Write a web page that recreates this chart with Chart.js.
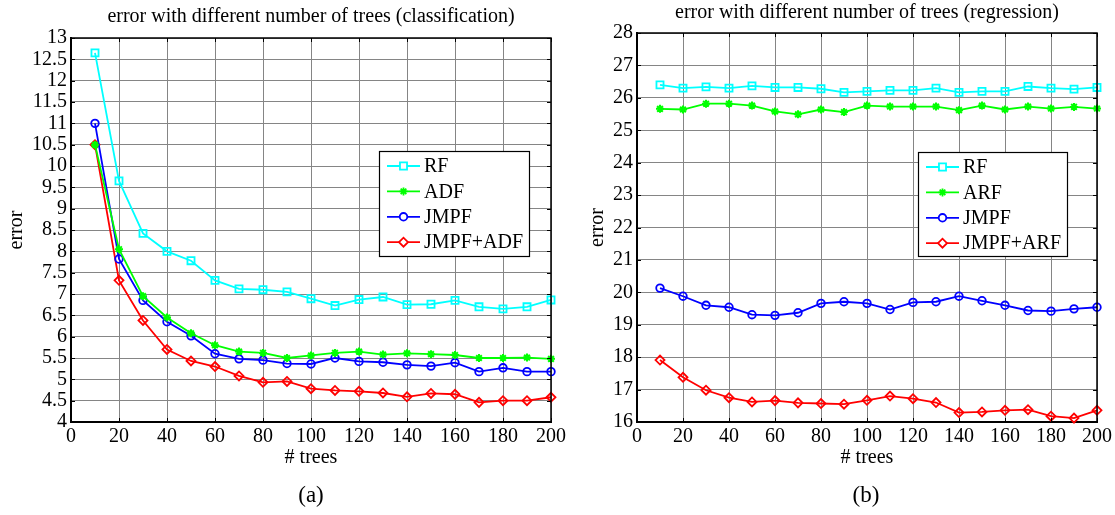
<!DOCTYPE html>
<html><head><meta charset="utf-8">
<script src="https://cdn.jsdelivr.net/npm/chart.js@4.4.0/dist/chart.umd.min.js"></script>
<style>
html,body{margin:0;padding:0;background:#fff;width:1115px;height:515px;overflow:hidden}
.wrap{position:absolute;top:0;height:515px}
canvas{display:block}
</style></head><body>
<div class="wrap" style="left:0;width:575px"><canvas id="c1" width="575" height="515"></canvas></div>
<div class="wrap" style="left:560px;width:555px"><canvas id="c2" width="555" height="515"></canvas></div>
<script>
// ---------- data ----------
const trees = [10,20,30,40,50,60,70,80,90,100,110,120,130,140,150,160,170,180,190,200];
const xTicks = [0,20,40,60,80,100,120,140,160,180,200];

// (a) classification
const clsRF   = [12.65,9.65,8.42,8.00,7.78,7.32,7.12,7.10,7.05,6.89,6.73,6.87,6.93,6.75,6.76,6.85,6.70,6.65,6.70,6.86];
const clsADF  = [10.50,8.05,6.95,6.45,6.08,5.80,5.65,5.62,5.50,5.56,5.62,5.65,5.58,5.61,5.59,5.57,5.50,5.50,5.51,5.48];
const clsJMPF = [11.00,7.82,6.85,6.35,6.02,5.60,5.48,5.45,5.37,5.36,5.50,5.42,5.40,5.34,5.31,5.39,5.18,5.27,5.18,5.18];
const clsJA   = [10.50,7.32,6.38,5.70,5.43,5.30,5.08,4.93,4.95,4.78,4.74,4.72,4.68,4.59,4.67,4.65,4.46,4.50,4.50,4.58];
const clsYTicks = [4,4.5,5,5.5,6,6.5,7,7.5,8,8.5,9,9.5,10,10.5,11,11.5,12,12.5,13];
const clsLabels = ['RF','ADF','JMPF','JMPF+ADF'];

// (b) regression
const regRF   = [26.40,26.30,26.34,26.30,26.37,26.32,26.32,26.28,26.17,26.20,26.23,26.23,26.30,26.17,26.20,26.20,26.35,26.30,26.27,26.32];
const regARF  = [25.66,25.64,25.82,25.82,25.76,25.58,25.49,25.64,25.56,25.76,25.73,25.73,25.73,25.62,25.76,25.64,25.73,25.67,25.72,25.67];
const regJMPF = [20.13,19.88,19.60,19.54,19.31,19.29,19.37,19.66,19.71,19.66,19.47,19.69,19.71,19.88,19.74,19.60,19.44,19.42,19.49,19.54];
const regJA   = [17.91,17.38,16.98,16.75,16.62,16.66,16.59,16.57,16.55,16.67,16.80,16.72,16.60,16.29,16.31,16.36,16.38,16.18,16.12,16.36];
const regYTicks = [16,17,18,19,20,21,22,23,24,25,26,27,28];
const regLabels = ['RF','ARF','JMPF','JMPF+ARF'];

// ---------- styling ----------
const FONT = "'Liberation Serif','Times New Roman',serif";
const styles = [
  {color:'#00ffff', pointStyle:'rect',    radius:5,   bw:1.8},
  {color:'#00ff00', pointStyle:'star',    radius:4,   bw:2},
  {color:'#0000ff', pointStyle:'circle',  radius:3.8, bw:1.8},
  {color:'#ff0000', pointStyle:'rectRot', radius:4.5, bw:1.8}
];

function makeDatasets(labels, series){
  return series.map((vals,i)=>({
    label: labels[i],
    data: trees.map((t,k)=>({x:t, y:vals[k]})),
    borderColor: styles[i].color,
    backgroundColor: 'rgba(0,0,0,0)',
    pointBackgroundColor: 'rgba(0,0,0,0)',
    pointBorderColor: styles[i].color,
    pointStyle: styles[i].pointStyle,
    pointRadius: styles[i].radius,
    pointBorderWidth: styles[i].bw,
    pointHoverRadius: styles[i].radius,
    borderWidth: 1.8,
    tension: 0,
    clip: false
  }));
}

function decoPlugin(cfg){
  return {
    id: 'deco',
    afterDraw(chart){
      const ctx = chart.ctx, ca = chart.chartArea;
      const xs = chart.scales.x, ys = chart.scales.y;
      ctx.save();
      // frame top/right
      ctx.strokeStyle = '#000';
      ctx.lineWidth = 1.5;
      ctx.beginPath();
      ctx.moveTo(ca.left, ca.top); ctx.lineTo(ca.right, ca.top); ctx.lineTo(ca.right, ca.bottom);
      ctx.stroke();
      // inward tick marks
      ctx.lineWidth = 1;
      ctx.beginPath();
      xTicks.forEach(v=>{
        const p = Math.round(xs.getPixelForValue(v))+0.5;
        ctx.moveTo(p, ca.top); ctx.lineTo(p, ca.top+4);
        ctx.moveTo(p, ca.bottom); ctx.lineTo(p, ca.bottom-4);
      });
      cfg.yTicks.forEach(v=>{
        const p = Math.round(ys.getPixelForValue(v))+0.5;
        ctx.moveTo(ca.left, p); ctx.lineTo(ca.left+4, p);
        ctx.moveTo(ca.right, p); ctx.lineTo(ca.right-4, p);
      });
      ctx.stroke();
      // title
      ctx.fillStyle = '#000';
      ctx.font = '20px ' + FONT;
      ctx.textAlign = 'center';
      ctx.textBaseline = 'middle';
      const cx = (ca.left+ca.right)/2;
      ctx.fillText(cfg.title, cx, cfg.titleY);
      // x axis title
      ctx.fillText('# trees', cx, 458);
      // y axis title
      ctx.save();
      ctx.translate(cfg.yTitleX, (ca.top+ca.bottom)/2);
      ctx.rotate(-Math.PI/2);
      ctx.fillText('error', 0, 0);
      ctx.restore();
      // caption
      ctx.font = '23px ' + FONT;
      ctx.fillText(cfg.caption, cfg.captionX, 496);
      // legend
      const b = cfg.legend;
      ctx.fillStyle = '#fff';
      ctx.fillRect(b.x, b.y, b.w, b.h);
      ctx.strokeStyle = '#000';
      ctx.lineWidth = 1.2;
      ctx.strokeRect(b.x+0.5, b.y+0.5, b.w, b.h);
      ctx.font = '20px ' + FONT;
      ctx.textAlign = 'left';
      chart.data.datasets.forEach((ds,i)=>{
        const y = b.y + 15 + i*25.4;
        ctx.strokeStyle = ds.borderColor;
        ctx.lineWidth = 1.8;
        ctx.beginPath();
        ctx.moveTo(b.x+8, y); ctx.lineTo(b.x+41, y);
        ctx.stroke();
        ctx.fillStyle = '#fff';
        Chart.helpers.drawPoint(ctx, {pointStyle: ds.pointStyle, radius: ds.pointRadius, rotation:0, borderWidth: ds.pointBorderWidth}, b.x+24.5, y);
        ctx.fillStyle = '#000';
        ctx.fillText(ds.label, b.x+45, y+1);
      });
      ctx.restore();
    }
  };
}

function makeChart(id, cfg){
  return new Chart(document.getElementById(id), {
    type: 'line',
    data: { datasets: makeDatasets(cfg.labels, cfg.series) },
    options: {
      responsive: false,
      animation: false,
      events: [],
      layout: { padding: cfg.padding },
      plugins: { legend:{display:false}, tooltip:{enabled:false}, title:{display:false} },
      scales: {
        x: {
          type: 'linear', min: 0, max: 200,
          afterBuildTicks: s => { s.ticks = xTicks.map(v=>({value:v})); },
          afterFit: s => { s.height = cfg.xHeight; },
          grid: { color:'#858585', lineWidth:1, drawTicks:false },
          border: { display:true, color:'#000', width:2 },
          ticks: { font:{family:FONT, size:20}, color:'#000', padding:3, maxRotation:0, autoSkip:false }
        },
        y: {
          type: 'linear', min: cfg.yTicks[0], max: cfg.yTicks[cfg.yTicks.length-1],
          afterBuildTicks: s => { s.ticks = cfg.yTicks.map(v=>({value:v})); },
          afterFit: s => { s.width = cfg.yWidth; },
          grid: { color:'#858585', lineWidth:1, drawTicks:false },
          border: { display:true, color:'#000', width:2 },
          ticks: { font:{family:FONT, size:20}, color:'#000', padding:4, autoSkip:false,
                   callback: v => String(v) }
        }
      }
    },
    plugins: [decoPlugin(cfg)]
  });
}

makeChart('c1', {
  labels: clsLabels, series: [clsRF, clsADF, clsJMPF, clsJA], yTicks: clsYTicks,
  padding: {top:38, right:24, left:0, bottom:0}, yWidth:71, xHeight:93,
  title: 'error with different number of trees (classification)', titleY: 16.5,
  yTitleX: 17, caption: '(a)', captionX: 311,
  legend: {x:379, y:151, w:150, h:105}
});
makeChart('c2', {
  labels: regLabels, series: [regRF, regARF, regJMPF, regJA], yTicks: regYTicks,
  padding: {top:33, right:17, left:0, bottom:0}, yWidth:77, xHeight:93,
  title: 'error with different number of trees (regression)', titleY: 12.5,
  yTitleX: 38, caption: '(b)', captionX: 306,
  legend: {x:358, y:152, w:149, h:104}
});
</script>
</body></html>
